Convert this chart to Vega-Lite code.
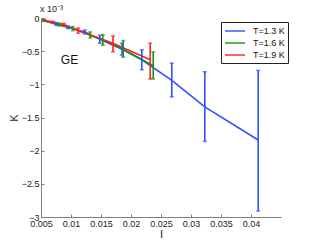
{
  "$schema": "https://vega.github.io/schema/vega-lite/v6.json",
  "width": 240,
  "height": 199,
  "autosize": "none",
  "padding": {"left": 41, "top": 18, "right": 32, "bottom": 26},
  "background": "white",
  "config": {
    "view": {"stroke": null},
    "font": "Liberation Sans",
    "axis": {
      "grid": false,
      "domainColor": "#7f7f7f",
      "tickColor": "#7f7f7f",
      "tickSize": -3,
      "labelPadding": 5,
      "labelColor": "#222",
      "labelFontSize": 9,
      "labelFont": "Liberation Sans",
      "labelOverlap": false,
      "labelFlush": false,
      "titleFont": "Liberation Sans",
      "titleFontWeight": "normal",
      "titleFontSize": 11,
      "titleColor": "#222"
    }
  },
  "datasets": {
    "pts": [
      {"T": "T=1.3 K", "x": 0.0055, "y": -0.04, "lo": -0.05, "hi": -0.03},
      {"T": "T=1.3 K", "x": 0.0075, "y": -0.09, "lo": -0.11, "hi": -0.07},
      {"T": "T=1.3 K", "x": 0.0095, "y": -0.14, "lo": -0.16, "hi": -0.12},
      {"T": "T=1.3 K", "x": 0.0123, "y": -0.21, "lo": -0.24, "hi": -0.18},
      {"T": "T=1.3 K", "x": 0.0148, "y": -0.32, "lo": -0.38, "hi": -0.26},
      {"T": "T=1.3 K", "x": 0.0185, "y": -0.47, "lo": -0.56, "hi": -0.38},
      {"T": "T=1.3 K", "x": 0.0218, "y": -0.63, "lo": -0.78, "hi": -0.48},
      {"T": "T=1.3 K", "x": 0.0268, "y": -0.94, "lo": -1.19, "hi": -0.68},
      {"T": "T=1.3 K", "x": 0.0323, "y": -1.34, "lo": -1.86, "hi": -0.81},
      {"T": "T=1.3 K", "x": 0.0412, "y": -1.84, "lo": -2.91, "hi": -0.79},
      {"T": "T=1.6 K", "x": 0.0055, "y": -0.04, "lo": -0.05, "hi": -0.03},
      {"T": "T=1.6 K", "x": 0.008, "y": -0.10, "lo": -0.12, "hi": -0.08},
      {"T": "T=1.6 K", "x": 0.0103, "y": -0.16, "lo": -0.19, "hi": -0.13},
      {"T": "T=1.6 K", "x": 0.0132, "y": -0.26, "lo": -0.30, "hi": -0.21},
      {"T": "T=1.6 K", "x": 0.0153, "y": -0.33, "lo": -0.41, "hi": -0.25},
      {"T": "T=1.6 K", "x": 0.0187, "y": -0.47, "lo": -0.59, "hi": -0.34},
      {"T": "T=1.6 K", "x": 0.0237, "y": -0.72, "lo": -0.92, "hi": -0.51},
      {"T": "T=1.9 K", "x": 0.0055, "y": -0.03, "lo": -0.04, "hi": -0.02},
      {"T": "T=1.9 K", "x": 0.007, "y": -0.06, "lo": -0.08, "hi": -0.05},
      {"T": "T=1.9 K", "x": 0.0088, "y": -0.10, "lo": -0.12, "hi": -0.08},
      {"T": "T=1.9 K", "x": 0.0112, "y": -0.19, "lo": -0.23, "hi": -0.15},
      {"T": "T=1.9 K", "x": 0.017, "y": -0.38, "lo": -0.51, "hi": -0.27},
      {"T": "T=1.9 K", "x": 0.0232, "y": -0.63, "lo": -0.92, "hi": -0.38}
    ],
    "notes": [
      {"x": 0.0083, "y": -0.63, "t": "GE"}
    ]
  },
  "layer": [
    {
      "data": {"name": "pts"},
      "mark": {"type": "line", "strokeWidth": 1.6},
      "encoding": {
        "x": {"field": "x", "type": "quantitative", "scale": {"domain": [0.005, 0.045], "nice": false, "zero": false},
              "axis": {"values": [0.005, 0.01, 0.015, 0.02, 0.025, 0.03, 0.035, 0.04], "tickCount": 20, "format": ".3~f", "title": "I", "titlePadding": 0}},
        "y": {"field": "y", "type": "quantitative", "scale": {"domain": [-3, 0], "nice": false, "zero": false},
              "axis": {"values": [-3, -2.5, -2, -1.5, -1, -0.5, 0], "tickCount": 20, "format": ".1~f", "labelBaseline": "middle", "title": "K", "titlePadding": 2}},
        "color": {"field": "T", "type": "nominal",
                  "scale": {"domain": ["T=1.3 K", "T=1.6 K", "T=1.9 K"], "range": ["#3050ff", "#0f9a0f", "#ff2020"]},
                  "legend": {"orient": "none", "legendX": 180, "legendY": 4, "title": null,
                             "symbolType": "M-2,0H2", "symbolSize": 100, "symbolStrokeWidth": 2, "symbolFillColor": "transparent",
                             "symbolOffset": 5, "labelOffset": 12,
                             "labelFontSize": 9, "labelColor": "#111", "rowPadding": 1,
                             "strokeColor": "#222", "fillColor": "white", "padding": 3}}
      }
    },
    {
      "data": {"name": "pts"},
      "mark": {"type": "rule", "strokeWidth": 1.6},
      "encoding": {
        "x": {"field": "x", "type": "quantitative"},
        "y": {"field": "lo", "type": "quantitative"},
        "y2": {"field": "hi"},
        "color": {"field": "T", "type": "nominal"}
      }
    },
    {
      "data": {"name": "pts"},
      "mark": {"type": "tick", "orient": "horizontal", "size": 4, "thickness": 1.5},
      "encoding": {
        "x": {"field": "x", "type": "quantitative"},
        "y": {"field": "lo", "type": "quantitative"},
        "color": {"field": "T", "type": "nominal"}
      }
    },
    {
      "data": {"name": "pts"},
      "mark": {"type": "tick", "orient": "horizontal", "size": 4, "thickness": 1.5},
      "encoding": {
        "x": {"field": "x", "type": "quantitative"},
        "y": {"field": "hi", "type": "quantitative"},
        "color": {"field": "T", "type": "nominal"}
      }
    },
    {
      "data": {"name": "notes"},
      "mark": {"type": "text", "fontSize": 12, "font": "Liberation Sans", "align": "left", "color": "#111"},
      "encoding": {
        "x": {"field": "x", "type": "quantitative"},
        "y": {"field": "y", "type": "quantitative"},
        "text": {"field": "t"}
      }
    },
    {
      "data": {"values": [{"x": 0.005, "y": 0, "t": "x 10⁻³"}]},
      "mark": {"type": "text", "fontSize": 9, "font": "Liberation Sans", "align": "left", "dy": -9, "dx": -1, "color": "#222"},
      "encoding": {
        "x": {"field": "x", "type": "quantitative"},
        "y": {"field": "y", "type": "quantitative"},
        "text": {"field": "t"}
      }
    }
  ]
}
